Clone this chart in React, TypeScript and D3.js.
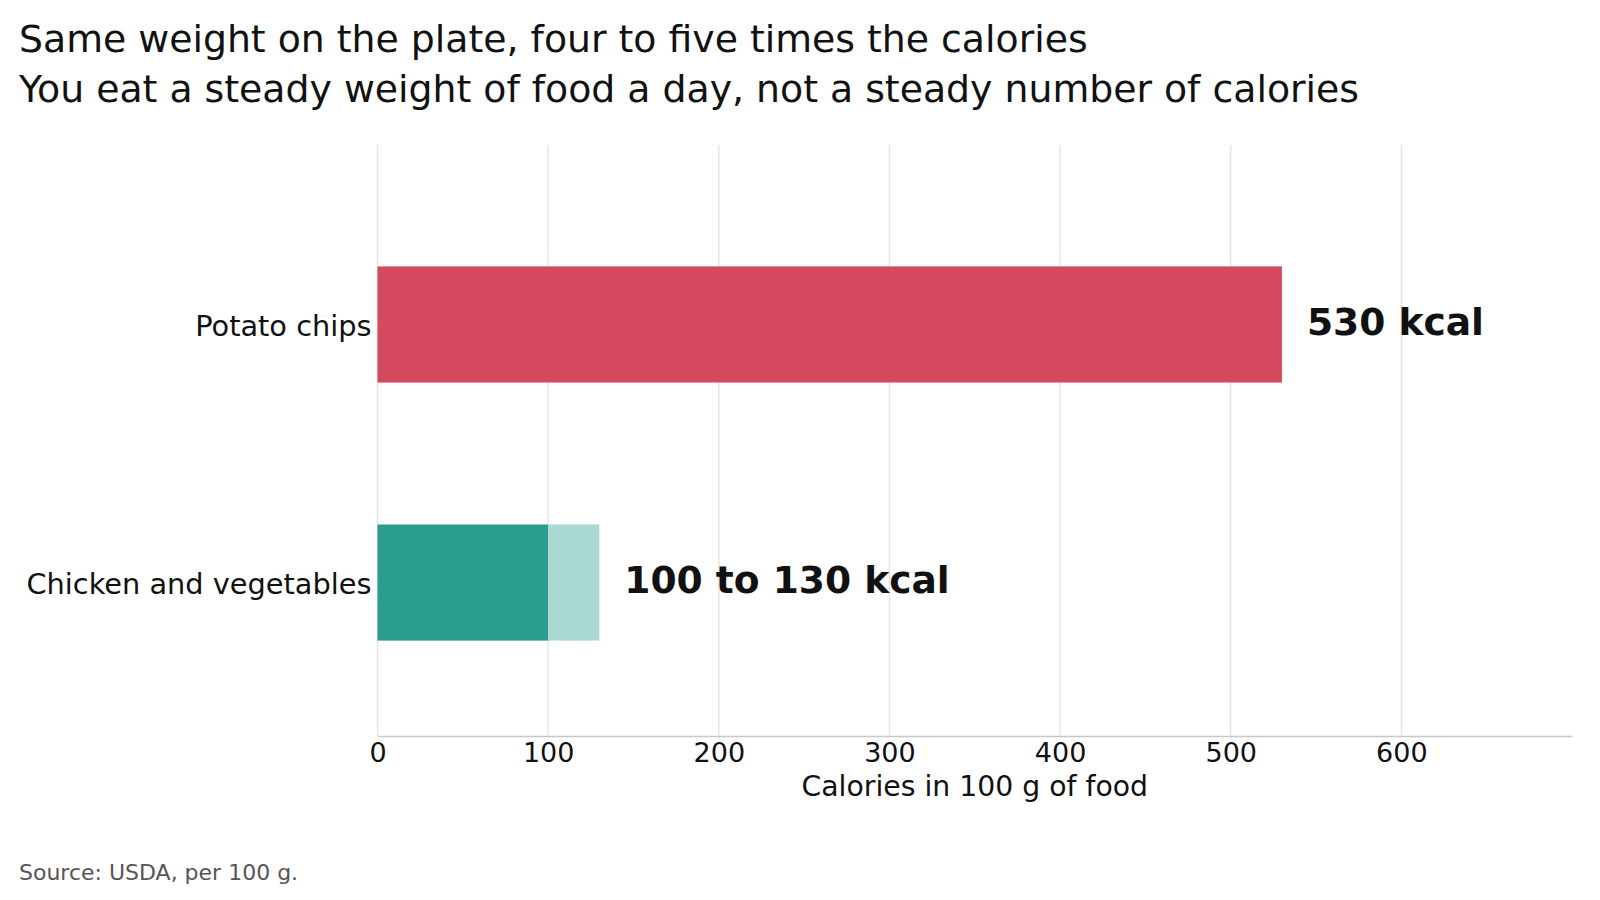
import React, { useRef, useEffect } from 'react';
import * as d3 from 'd3';

// chart data
const categories = ['Potato chips', 'Chicken and vegetables'];
const lowValues = [530, 100];
const highValues = [530, 130];
const valueLabels = ['530 kcal', '100 to 130 kcal'];
const barColors = ['#d4495e', '#2a9d8f'];
const rangeColors = ['#d4495e', '#aad8d2'];
const xTicks = [0, 100, 200, 300, 400, 500, 600];

const titleLines = [
  'Same weight on the plate, four to five times the calories',
  'You eat a steady weight of food a day, not a steady number of calories',
];
const xAxisTitle = 'Calories in 100 g of food';
const sourceNote = 'Source: USDA, per 100 g.';

const WIDTH = 1600;
const HEIGHT = 900;
const FONT = '"DejaVu Sans", Verdana, sans-serif';

const App: React.FC = () => {
  const svgRef = useRef<SVGSVGElement>(null);

  useEffect(() => {
    if (!svgRef.current) return;
    const svg = d3.select(svgRef.current);
    svg.selectAll('*').remove();

    const plot = { left: 377.5, right: 1572, top: 145, bottom: 736 };

    const x = d3.scaleLinear().domain([0, 700]).range([plot.left, plot.right]);
    const y = d3.scaleBand()
      .domain(categories)
      .range([plot.top, plot.bottom])
      .paddingInner(0.55)
      .paddingOuter(0.42)
      .align(0.56);

    // Titles
    svg.append('g')
      .selectAll('text')
      .data(titleLines)
      .enter()
      .append('text')
      .attr('x', 19)
      .attr('y', (_, i) => 52 + i * 50)
      .attr('font-size', 37.8)
      .attr('fill', '#111')
      .text(d => d);

    // Grid
    svg.append('g')
      .selectAll('line')
      .data(xTicks)
      .enter()
      .append('line')
      .attr('x1', d => x(d))
      .attr('x2', d => x(d))
      .attr('y1', plot.top)
      .attr('y2', plot.bottom)
      .attr('stroke', '#e6e6e6')
      .attr('stroke-width', 1.5);

    // Bars
    const rows = categories.map((c, i) => ({
      cat: c, low: lowValues[i], high: highValues[i], label: valueLabels[i], i,
    }));

    const barGroup = svg.append('g');
    barGroup.selectAll('.bar-low')
      .data(rows)
      .enter()
      .append('rect')
      .attr('x', x(0))
      .attr('y', d => y(d.cat)!)
      .attr('width', d => x(d.low) - x(0))
      .attr('height', y.bandwidth())
      .attr('fill', d => barColors[d.i]);

    barGroup.selectAll('.bar-range')
      .data(rows.filter(d => d.high > d.low))
      .enter()
      .append('rect')
      .attr('x', d => x(d.low))
      .attr('y', d => y(d.cat)!)
      .attr('width', d => x(d.high) - x(d.low))
      .attr('height', y.bandwidth())
      .attr('fill', d => rangeColors[d.i]);

    // Value labels
    barGroup.selectAll('.value')
      .data(rows)
      .enter()
      .append('text')
      .attr('x', d => x(d.high) + 25)
      .attr('y', d => y(d.cat)! + y.bandwidth() / 2)
      .attr('dy', '0.28em')
      .attr('font-size', 37.6)
      .attr('font-weight', 'bold')
      .attr('fill', '#111')
      .text(d => d.label);

    // Category labels
    svg.append('g')
      .selectAll('text')
      .data(categories)
      .enter()
      .append('text')
      .attr('x', plot.left - 6)
      .attr('y', d => y(d)! + y.bandwidth() / 2)
      .attr('dy', '0.4em')
      .attr('text-anchor', 'end')
      .attr('font-size', 28.8)
      .attr('fill', '#111')
      .text(d => d);

    // X axis
    const axis = svg.append('g')
      .attr('transform', `translate(0,${plot.bottom})`)
      .call(d3.axisBottom(x).tickValues(xTicks).tickSize(0).tickPadding(7).tickFormat(d => String(d)));
    axis.select('.domain').attr('stroke', '#c8c8c8').attr('stroke-width', 1.5);
    axis.selectAll('text')
      .attr('font-family', FONT)
      .attr('font-size', 27)
      .attr('fill', '#111');

    svg.append('text')
      .attr('x', (plot.left + plot.right) / 2)
      .attr('y', 796)
      .attr('text-anchor', 'middle')
      .attr('font-size', 28.3)
      .attr('fill', '#111')
      .text(xAxisTitle);

    // Source
    svg.append('text')
      .attr('x', 19)
      .attr('y', 880)
      .attr('font-size', 22)
      .attr('fill', '#555')
      .text(sourceNote);
  }, []);

  return (
    <div style={{ position: 'fixed', left: 0, top: 0, width: WIDTH, height: HEIGHT, background: '#fff' }}>
      <svg ref={svgRef} width={WIDTH} height={HEIGHT} style={{ display: 'block', fontFamily: FONT }} />
    </div>
  );
};

export default App;
